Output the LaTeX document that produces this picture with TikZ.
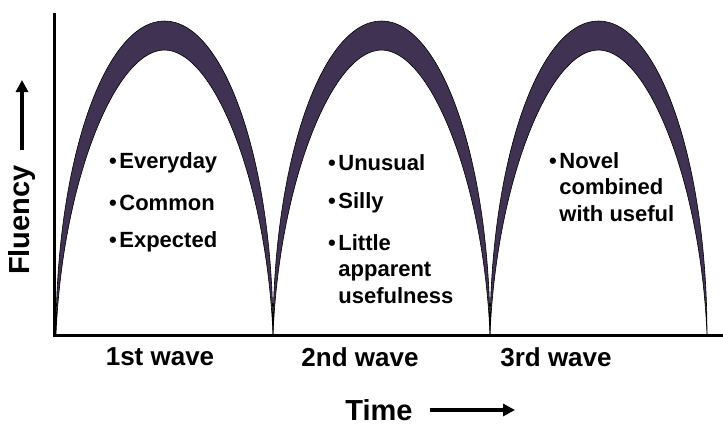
\documentclass[tikz,border=0pt]{standalone}
\usepackage{fontspec}
\setmainfont{Liberation Sans}
\usetikzlibrary{arrows.meta,positioning}
\definecolor{wavepurple}{RGB}{64,50,82}
\newcommand{\bl}{\textbullet\hspace{2.5pt}}
\newcommand{\bi}{\phantom{\bl}}

\begin{document}
\begin{tikzpicture}[x=1pt, y=-1pt,
  band/.style={fill=wavepurple, draw=black, line width=0.6pt},
  axis/.style={line width=3pt},
  arr/.style={-{Triangle[length=12pt,width=12pt]}, line width=3.6pt},
  itm/.style={anchor=west, align=left, inner sep=0pt, font=\bfseries\fontsize{22}{26.5}\selectfont},
  wave/.style={font=\bfseries\fontsize{26}{30}\selectfont},
  big/.style={font=\bfseries\fontsize{29}{34}\selectfont, inner sep=2pt}]
\useasboundingbox (0,0) rectangle (723,426);
% the three waves
\foreach \x in {56,273,490}{
  \draw[band] (\x,335) .. controls (\x,162) and (\x+48.5,21) .. (\x+108.5,21)
    .. controls (\x+168.5,21) and (\x+217,162) .. (\x+217,335)
    .. controls (\x+211,185) and (\x+158.5,50) .. (\x+108.5,50)
    .. controls (\x+58.5,50) and (\x+6,185) .. cycle;
}
% axes
\coordinate (top) at (54,13);
\coordinate (org) at (54,335);
\coordinate (end) at (723,335);
\draw[axis] (top) -- (org) -- (end);
% axis labels
\node[big, rotate=90] (flu) at (22,220) {Fluency};
\coordinate (fup) at (22,80);
\draw[arr, shorten <=13pt] (flu.east) -- (fup);
\node[big] (time) at (379,410) {Time};
\coordinate (tend) at (515,410);
\draw[arr, shorten <=15pt] (time.east) -- (tend);
% wave names
\node[wave] (w1) at (160,357) {1st wave};
\node[wave] (w2) at (360,357) {2nd wave};
\node[wave] (w3) at (556,357) {3rd wave};
% 1st wave
\node[itm] (ev) at (109,163) {\bl Everyday};
\node[itm] (cm) at (109,203) {\bl Common};
\node[itm] (ex) at (109,242) {\bl Expected};
% 2nd wave
\node[itm] (un) at (328,163) {\bl Unusual};
\node[itm] (si) at (328,203) {\bl Silly};
\node[itm] (li) at (328,269) {\bl Little\\\bi apparent\\\bi usefulness};
% 3rd wave
\node[itm] (nv) at (549,187) {\bl Novel\\\bi combined\\\bi with useful};
\end{tikzpicture}
\end{document}
